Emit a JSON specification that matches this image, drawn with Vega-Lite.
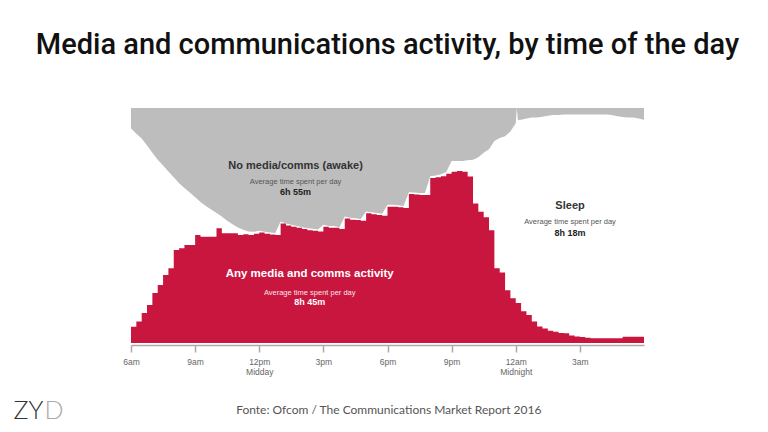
{
  "$schema": "https://vega.github.io/schema/vega-lite/v6.json",
  "width": 513,
  "height": 235,
  "autosize": "none",
  "padding": {"left": 131, "top": 108, "right": 124, "bottom": 89},
  "background": "white",
  "config": {"view": {"stroke": null}},
  "title": {
    "text": "Media and communications activity, by time of the day",
    "font": "Roboto",
    "fontWeight": 500,
    "fontSize": 29,
    "color": "#111111",
    "anchor": "middle",
    "offset": 48
  },
  "datasets": {
    "activity": [
      {"t": 6.0, "media": 6.9, "upper": 91.4},
      {"t": 6.25, "media": 9.1, "upper": 89},
      {"t": 6.5, "media": 12.8, "upper": 87},
      {"t": 6.75, "media": 16.2, "upper": 84},
      {"t": 7.0, "media": 21.3, "upper": 81},
      {"t": 7.25, "media": 24.7, "upper": 78},
      {"t": 7.5, "media": 28.9, "upper": 75.5},
      {"t": 7.75, "media": 31.8, "upper": 73},
      {"t": 8.0, "media": 39.6, "upper": 70.5},
      {"t": 8.25, "media": 40.3, "upper": 68},
      {"t": 8.5, "media": 41.7, "upper": 66},
      {"t": 8.75, "media": 41.7, "upper": 64},
      {"t": 9.0, "media": 46, "upper": 62},
      {"t": 9.25, "media": 45.2, "upper": 60},
      {"t": 9.5, "media": 45.2, "upper": 58.3},
      {"t": 9.75, "media": 45.2, "upper": 56.8},
      {"t": 10.0, "media": 48.8, "upper": 55.3},
      {"t": 10.25, "media": 46.7, "upper": 53.8},
      {"t": 10.5, "media": 46.7, "upper": 52},
      {"t": 10.75, "media": 46.7, "upper": 50.5},
      {"t": 11.0, "media": 46, "upper": 49.2},
      {"t": 11.25, "media": 46.3, "upper": 48.2},
      {"t": 11.5, "media": 46, "upper": 47.5},
      {"t": 11.75, "media": 46.5, "upper": 47.3},
      {"t": 12.0, "media": 47, "upper": 47.8},
      {"t": 12.25, "media": 46.5, "upper": 47.3},
      {"t": 12.5, "media": 46.2, "upper": 47},
      {"t": 12.75, "media": 46, "upper": 46.8},
      {"t": 13.0, "media": 50.9, "upper": 51.7},
      {"t": 13.25, "media": 50, "upper": 50.8},
      {"t": 13.5, "media": 49.5, "upper": 50.3},
      {"t": 13.75, "media": 49, "upper": 49.8},
      {"t": 14.0, "media": 48.5, "upper": 49.3},
      {"t": 14.25, "media": 48, "upper": 48.8},
      {"t": 14.5, "media": 47.8, "upper": 48.6},
      {"t": 14.75, "media": 47.5, "upper": 48.3},
      {"t": 15.0, "media": 49.5, "upper": 50.3},
      {"t": 15.25, "media": 49, "upper": 49.8},
      {"t": 15.5, "media": 49, "upper": 49.8},
      {"t": 15.75, "media": 48.5, "upper": 49.3},
      {"t": 16.0, "media": 53, "upper": 53.8},
      {"t": 16.25, "media": 52.5, "upper": 53.3},
      {"t": 16.5, "media": 52.3, "upper": 53.1},
      {"t": 16.75, "media": 52, "upper": 52.8},
      {"t": 17.0, "media": 55.2, "upper": 56},
      {"t": 17.25, "media": 54.8, "upper": 55.6},
      {"t": 17.5, "media": 54.5, "upper": 55.3},
      {"t": 17.75, "media": 54.2, "upper": 55},
      {"t": 18.0, "media": 58, "upper": 58.8},
      {"t": 18.25, "media": 58, "upper": 58.8},
      {"t": 18.5, "media": 57.8, "upper": 58.6},
      {"t": 18.75, "media": 57.5, "upper": 58.3},
      {"t": 19.0, "media": 63.4, "upper": 64.2},
      {"t": 19.25, "media": 63.2, "upper": 64},
      {"t": 19.5, "media": 63, "upper": 63.8},
      {"t": 19.75, "media": 63, "upper": 63.8},
      {"t": 20.0, "media": 70.2, "upper": 71},
      {"t": 20.25, "media": 70.5, "upper": 71.3},
      {"t": 20.5, "media": 71, "upper": 71.8},
      {"t": 20.75, "media": 72, "upper": 72.8},
      {"t": 21.0, "media": 72.9, "upper": 77.4},
      {"t": 21.25, "media": 73.2, "upper": 77.4},
      {"t": 21.5, "media": 72.9, "upper": 77.5},
      {"t": 21.75, "media": 70.8, "upper": 77.8},
      {"t": 22.0, "media": 59.4, "upper": 78},
      {"t": 22.25, "media": 55.9, "upper": 79},
      {"t": 22.5, "media": 53.5, "upper": 81},
      {"t": 22.75, "media": 48, "upper": 82.5},
      {"t": 23.0, "media": 31.8, "upper": 86},
      {"t": 23.25, "media": 30, "upper": 87.2},
      {"t": 23.5, "media": 22.5, "upper": 88},
      {"t": 23.75, "media": 19, "upper": 90},
      {"t": 24.0, "media": 17, "upper": 93.5},
      {"t": 24.05, "media": 17, "upper": 100},
      {"t": 24.1, "media": 17, "upper": 94.9},
      {"t": 24.25, "media": 13.5, "upper": 95},
      {"t": 24.5, "media": 11.9, "upper": 95.5},
      {"t": 24.75, "media": 9.1, "upper": 96},
      {"t": 25.0, "media": 7, "upper": 96},
      {"t": 25.25, "media": 6.2, "upper": 96.3},
      {"t": 25.5, "media": 5.2, "upper": 96.7},
      {"t": 25.75, "media": 4.8, "upper": 97},
      {"t": 26.0, "media": 4.3, "upper": 97},
      {"t": 26.25, "media": 4.1, "upper": 97.2},
      {"t": 26.5, "media": 3.2, "upper": 97.2},
      {"t": 26.75, "media": 2.8, "upper": 97.2},
      {"t": 27.0, "media": 2.6, "upper": 97.2},
      {"t": 27.25, "media": 2.2, "upper": 97.2},
      {"t": 27.5, "media": 2.0, "upper": 97.2},
      {"t": 27.75, "media": 2.0, "upper": 97.2},
      {"t": 28.0, "media": 2.0, "upper": 97.2},
      {"t": 28.25, "media": 2.0, "upper": 97.2},
      {"t": 28.5, "media": 2.0, "upper": 97},
      {"t": 28.75, "media": 2.0, "upper": 96.5},
      {"t": 29.0, "media": 2.7, "upper": 96.2},
      {"t": 29.25, "media": 2.7, "upper": 96},
      {"t": 29.5, "media": 2.7, "upper": 96},
      {"t": 29.75, "media": 2.7, "upper": 95.5},
      {"t": 30.0, "media": 2.7, "upper": 95}
    ],
    "labels": [
      {"t": 13.7, "v": 75.4, "text": "No media/comms (awake)", "kind": "head", "area": "gray"},
      {"t": 13.7, "v": 68.6, "text": "Average time spent per day", "kind": "sub", "area": "gray"},
      {"t": 13.7, "v": 64.4, "text": "6h 55m", "kind": "val", "area": "gray"},
      {"t": 14.36, "v": 29.4, "text": "Any media and comms activity", "kind": "head", "area": "red"},
      {"t": 14.36, "v": 21.1, "text": "Average time spent per day", "kind": "sub", "area": "red"},
      {"t": 14.36, "v": 17.3, "text": "8h 45m", "kind": "val", "area": "red"},
      {"t": 26.54, "v": 58.3, "text": "Sleep", "kind": "head", "area": "white"},
      {"t": 26.54, "v": 51.5, "text": "Average time spent per day", "kind": "sub", "area": "white"},
      {"t": 26.54, "v": 46.9, "text": "8h 18m", "kind": "val", "area": "white"}
    ]
  },
  "layer": [
    {
      "data": {"name": "activity"},
      "mark": {"type": "area", "interpolate": "linear", "color": "#bdbdbd"},
      "encoding": {
        "x": {"field": "t", "type": "quantitative", "scale": {"domain": [6, 30], "nice": false, "zero": false},
          "axis": {
            "values": [6, 9, 12, 15, 18, 21, 24, 27],
            "labelExpr": "datum.value == 6 ? '6am' : datum.value == 9 ? '9am' : datum.value == 12 ? ['12pm', 'Midday'] : datum.value == 15 ? '3pm' : datum.value == 18 ? '6pm' : datum.value == 21 ? '9pm' : datum.value == 24 ? ['12am', 'Midnight'] : '3am'",
            "title": null, "grid": false, "offset": 2,
            "domainColor": "#aaaaaa", "domainWidth": 1.5,
            "tickColor": "#aaaaaa", "tickWidth": 1.5, "tickSize": 7,
            "labelFont": "Liberation Sans", "labelFontSize": 8.5, "labelColor": "#666666",
            "labelPadding": 5, "labelFlush": false, "labelLineHeight": 10
          }},
        "y": {"field": "upper", "type": "quantitative", "scale": {"domain": [0, 100], "nice": false}, "axis": null},
        "y2": {"datum": 100}
      }
    },
    {
      "data": {"name": "activity"},
      "mark": {"type": "area", "interpolate": "step-after", "color": "#c8163f"},
      "encoding": {
        "x": {"field": "t", "type": "quantitative"},
        "y": {"field": "media", "type": "quantitative"}
      }
    },
    {
      "data": {"name": "labels"},
      "transform": [{"filter": "datum.kind == 'head' && datum.area != 'red'"}],
      "mark": {"type": "text", "align": "center", "baseline": "middle", "font": "Liberation Sans", "fontWeight": "bold", "fontSize": 11, "color": "#333333"},
      "encoding": {
        "x": {"field": "t", "type": "quantitative"},
        "y": {"field": "v", "type": "quantitative"},
        "text": {"field": "text"}
      }
    },
    {
      "data": {"name": "labels"},
      "transform": [{"filter": "datum.kind == 'sub' && datum.area != 'red'"}],
      "mark": {"type": "text", "align": "center", "baseline": "middle", "font": "Liberation Sans", "fontSize": 7.5, "color": "#555555"},
      "encoding": {
        "x": {"field": "t", "type": "quantitative"},
        "y": {"field": "v", "type": "quantitative"},
        "text": {"field": "text"}
      }
    },
    {
      "data": {"name": "labels"},
      "transform": [{"filter": "datum.kind == 'val' && datum.area != 'red'"}],
      "mark": {"type": "text", "align": "center", "baseline": "middle", "font": "Liberation Sans", "fontWeight": "bold", "fontSize": 9, "color": "#222222"},
      "encoding": {
        "x": {"field": "t", "type": "quantitative"},
        "y": {"field": "v", "type": "quantitative"},
        "text": {"field": "text"}
      }
    },
    {
      "data": {"name": "labels"},
      "transform": [{"filter": "datum.kind == 'head' && datum.area == 'red'"}],
      "mark": {"type": "text", "align": "center", "baseline": "middle", "font": "Liberation Sans", "fontWeight": "bold", "fontSize": 11.5, "color": "#ffffff"},
      "encoding": {
        "x": {"field": "t", "type": "quantitative"},
        "y": {"field": "v", "type": "quantitative"},
        "text": {"field": "text"}
      }
    },
    {
      "data": {"name": "labels"},
      "transform": [{"filter": "datum.kind == 'sub' && datum.area == 'red'"}],
      "mark": {"type": "text", "align": "center", "baseline": "middle", "font": "Liberation Sans", "fontSize": 7.5, "color": "#fbe3e8"},
      "encoding": {
        "x": {"field": "t", "type": "quantitative"},
        "y": {"field": "v", "type": "quantitative"},
        "text": {"field": "text"}
      }
    },
    {
      "data": {"name": "labels"},
      "transform": [{"filter": "datum.kind == 'val' && datum.area == 'red'"}],
      "mark": {"type": "text", "align": "center", "baseline": "middle", "font": "Liberation Sans", "fontWeight": "bold", "fontSize": 9, "color": "#ffffff"},
      "encoding": {
        "x": {"field": "t", "type": "quantitative"},
        "y": {"field": "v", "type": "quantitative"},
        "text": {"field": "text"}
      }
    },
    {
      "data": {"values": [{"t": 18.06, "v": -28.5, "text": "Fonte: Ofcom / The Communications Market Report 2016"}]},
      "mark": {"type": "text", "align": "center", "baseline": "middle", "font": "Lato", "fontSize": 12, "color": "#555555"},
      "encoding": {
        "x": {"field": "t", "type": "quantitative"},
        "y": {"field": "v", "type": "quantitative"},
        "text": {"field": "text"}
      }
    },
    {
      "data": {"values": [{"t": 0.5, "v": -28.9, "text": "ZY"}]},
      "mark": {"type": "text", "align": "left", "baseline": "middle", "font": "Lato", "fontWeight": 300, "fontSize": 25, "color": "#333333"},
      "encoding": {
        "x": {"field": "t", "type": "quantitative"},
        "y": {"field": "v", "type": "quantitative"},
        "text": {"field": "text"}
      }
    },
    {
      "data": {"values": [{"t": 1.95, "v": -28.9, "text": "D"}]},
      "mark": {"type": "text", "align": "left", "baseline": "middle", "font": "Lato", "fontWeight": 300, "fontSize": 25, "color": "#aaaaaa"},
      "encoding": {
        "x": {"field": "t", "type": "quantitative"},
        "y": {"field": "v", "type": "quantitative"},
        "text": {"field": "text"}
      }
    }
  ]
}
